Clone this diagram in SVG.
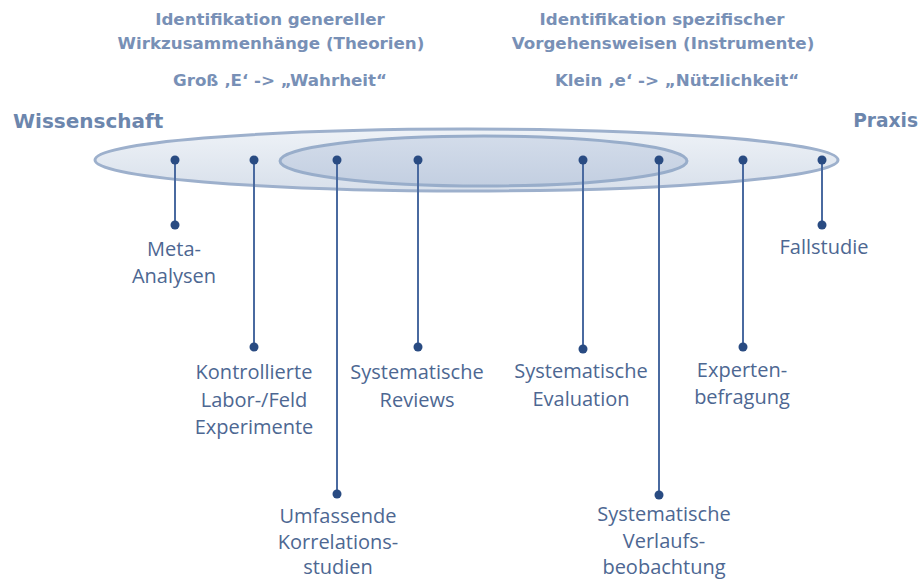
<svg xmlns="http://www.w3.org/2000/svg" width="920" height="581" viewBox="0 0 920 581">
<defs>
<linearGradient id="gOuter" x1="0" y1="0" x2="0" y2="1">
<stop offset="0" stop-color="#eef2f7"/><stop offset="1" stop-color="#d8e0eb"/>
</linearGradient>
<linearGradient id="gInner" x1="0" y1="0" x2="0" y2="1">
<stop offset="0" stop-color="#d3dcea"/><stop offset="1" stop-color="#c3cfe1"/>
</linearGradient>
<style>
.hd{font-family:"DejaVu Sans","Liberation Sans",sans-serif;font-weight:bold;font-size:16.7px;fill:#7890b6;text-anchor:middle}
.side{font-family:"DejaVu Sans","Liberation Sans",sans-serif;font-weight:bold;fill:#6c86ad}
.lb{font-family:"Open Sans","Noto Sans",sans-serif;font-size:20px;fill:#4d6792;text-anchor:middle}
.ln{stroke:#4a6aa0;stroke-width:2;fill:none}
.dt{fill:#294b82}
</style>
</defs>
<rect width="920" height="581" fill="#ffffff"/>
<g id="headers">
<text class="hd" x="270" y="25">Identifikation genereller</text>
<text class="hd" x="271" y="49">Wirkzusammenhänge (Theorien)</text>
<text class="hd" x="280" y="86">Groß ‚E‘ -&gt; „Wahrheit“</text>
<text class="hd" x="662" y="25">Identifikation spezifischer</text>
<text class="hd" x="663" y="49">Vorgehensweisen (Instrumente)</text>
<text class="hd" x="677" y="86">Klein ‚e‘ -&gt; „Nützlichkeit“</text>
<text class="side" x="13" y="128" font-size="20">Wissenschaft</text>
<text class="side" x="918" y="127" font-size="18.6" text-anchor="end">Praxis</text>
</g>
<g id="ellipses">
<ellipse cx="466.5" cy="160" rx="371.5" ry="31" fill="url(#gOuter)" stroke="#9db0cc" stroke-width="3"/>
<ellipse cx="483.5" cy="161" rx="203.5" ry="25" fill="url(#gInner)" stroke="#98adca" stroke-width="3"/>
</g>
<g id="connectors">
<line class="ln" x1="175" y1="160" x2="175" y2="225"/>
<line class="ln" x1="254" y1="160" x2="254" y2="347"/>
<line class="ln" x1="337" y1="160" x2="337" y2="494"/>
<line class="ln" x1="418" y1="160" x2="418" y2="347"/>
<line class="ln" x1="583" y1="160" x2="583" y2="349"/>
<line class="ln" x1="659" y1="160" x2="659" y2="495"/>
<line class="ln" x1="743" y1="160" x2="743" y2="347"/>
<line class="ln" x1="822" y1="160" x2="822" y2="225"/>
</g>
<g id="n-meta">
<circle class="dt" cx="175" cy="160" r="4.5"/><circle class="dt" cx="175" cy="225" r="4.5"/>
<text class="lb" x="174" y="256">Meta-</text><text class="lb" x="174" y="283">Analysen</text>
</g>
<g id="n-kontrolliert">
<circle class="dt" cx="254" cy="160" r="4.5"/><circle class="dt" cx="254" cy="347" r="4.5"/>
<text class="lb" x="254" y="379">Kontrollierte</text><text class="lb" x="254" y="407">Labor-/Feld</text><text class="lb" x="254" y="434">Experimente</text>
</g>
<g id="n-korrelation">
<circle class="dt" cx="337" cy="160" r="4.5"/><circle class="dt" cx="337" cy="494" r="4.5"/>
<text class="lb" x="338" y="523">Umfassende</text><text class="lb" x="338" y="549">Korrelations-</text><text class="lb" x="338" y="574">studien</text>
</g>
<g id="n-reviews">
<circle class="dt" cx="418" cy="160" r="4.5"/><circle class="dt" cx="418" cy="347" r="4.5"/>
<text class="lb" x="417" y="379">Systematische</text><text class="lb" x="417" y="407">Reviews</text>
</g>
<g id="n-evaluation">
<circle class="dt" cx="583" cy="160" r="4.5"/><circle class="dt" cx="583" cy="349" r="4.5"/>
<text class="lb" x="581" y="378">Systematische</text><text class="lb" x="581" y="406">Evaluation</text>
</g>
<g id="n-verlauf">
<circle class="dt" cx="659" cy="160" r="4.5"/><circle class="dt" cx="659" cy="495" r="4.5"/>
<text class="lb" x="664" y="521">Systematische</text><text class="lb" x="664" y="548">Verlaufs-</text><text class="lb" x="664" y="574">beobachtung</text>
</g>
<g id="n-experten">
<circle class="dt" cx="743" cy="160" r="4.5"/><circle class="dt" cx="743" cy="347" r="4.5"/>
<text class="lb" x="742" y="377">Experten-</text><text class="lb" x="742" y="404">befragung</text>
</g>
<g id="n-fallstudie">
<circle class="dt" cx="822" cy="160" r="4.5"/><circle class="dt" cx="822" cy="225" r="4.5"/>
<text class="lb" x="824" y="254">Fallstudie</text>
</g>
</svg>
